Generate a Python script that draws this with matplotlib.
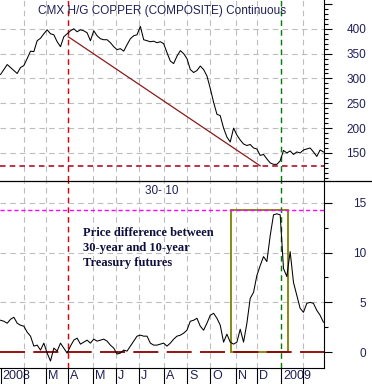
import numpy as np
import matplotlib
matplotlib.use("Agg")
import matplotlib.pyplot as plt
from matplotlib.lines import Line2D
from matplotlib.patches import Rectangle
from matplotlib.transforms import ScaledTranslation
from matplotlib.ticker import MultipleLocator

plt.rcParams['font.family'] = ['Liberation Sans', 'DejaVu Sans']
plt.rcParams['lines.scale_dashes'] = False

# trading days per month, Jan 2008 .. Feb 2009
month_days = [21, 20, 20, 22, 21, 21, 22, 21, 21, 23, 19, 22, 20, 19]
month_labels = ['2008', '', 'M', 'A', 'M', 'J', 'J', 'A', 'S', 'O', 'N', 'D', '2009', '']
step = 3  # trading days between samples

copper = [308, 318, 328, 322, 316, 310, 322, 326, 340, 355,
          354, 376, 381, 390, 398, 390, 388, 374, 364, 384,
          390, 396, 400, 394, 398, 396, 392, 376, 396, 386,
          380, 378, 378, 372, 364, 358, 360, 355, 368, 380,
          386, 388, 405, 378, 376, 374, 375, 372, 374, 370,
          352, 335, 330, 345, 356, 350, 340, 318, 312, 316,
          325, 318, 305, 280, 252, 228, 225, 200, 182, 172,
          200, 186, 176, 168, 165, 167, 160, 158, 145, 147,
          138, 130, 127, 127, 134, 155, 150, 154, 147, 152,
          150, 156, 158, 160, 152, 143, 156, 152]

spread = [3.2, 3.1, 2.9, 3.3, 3.5, 2.9, 2.7, 2.6, 2.0, 1.6,
          0.6, 0.7, 0.2, 0.9, -0.1, -0.9, 0.4, 0.1, 0.9, 0.4,
          -0.1, 0.6, 1.2, 1.4, 0.8, 1.0, 1.2, 0.9, 1.3, 1.1,
          1.2, 1.3, 1.1, 0.7, 0.4, -0.2, -0.1, 0.2, 0.1, 0.6,
          1.1, 1.6, 1.7, 1.6, 1.6, 0.9, 0.7, 0.7, 0.8, 0.9,
          0.6, 0.9, 1.3, 1.6, 1.7, 1.9, 2.2, 3.1, 3.2, 3.4,
          2.6, 2.2, 2.9, 3.7, 3.9, 3.4, 2.7, 1.0, 1.8, 1.0,
          0.8, 1.0, 2.3, 1.0, 2.9, 5.4, 6.0, 7.7, 8.7, 9.6,
          9.1, 11.7, 13.8, 13.9, 13.8, 8.4, 7.6, 10.1, 7.0, 5.7,
          4.4, 4.0, 4.9, 5.0, 4.9, 4.2, 3.7, 3.0]

# reference marks (trading day index / value)
red_day, green_day = 61, 253
trend_days, trend_vals = [61, 234], [384, 124]
copper_floor = 124
spread_top = 14.3
box_days = (208, 259)

txt = '#202058'
grid_kw = dict(color='#bdbdbd', lw=0.8, linestyle=(0, (4, 3)))

month_starts = np.concatenate([[0], np.cumsum(month_days)[:-1]])
x_cop = np.arange(len(copper)) * step
x_spr = np.arange(len(spread)) * step

fig = plt.figure(figsize=(3.72, 3.84), dpi=100)
ax1 = fig.add_axes([0, 203 / 384, 324 / 372, 181 / 384])
ax2 = fig.add_axes([0, 16 / 384, 324 / 372, 187 / 384])

for ax in (ax1, ax2):
    ax.set_xlim(-0.5, 291.5)
    for s in ('top', 'left'):
        ax.spines[s].set_visible(False)
    ax.yaxis.tick_right()
    ax.tick_params(axis='y', which='major', length=6, width=0.8, pad=24.5,
                   labelsize=8.5, labelcolor=txt)
    ax.tick_params(axis='y', which='minor', length=3, width=0.8)
    for m in month_starts[1:]:
        ax.axvline(m, **grid_kw, zorder=0)
    ax.axvline(red_day, color='#e00000', lw=1, linestyle=(0, (4, 3)))
    ax.axvline(green_day, color='#008000', lw=1, linestyle=(0, (4, 3)))

# top panel: copper
ax1.set_ylim(93.5, 458)
ax1.yaxis.set_minor_locator(MultipleLocator(10))
ax1.set_yticks([150, 200, 250, 300, 350, 400, 450])
ax1.set_yticklabels(['150', '200', '250', '300', '350', '400', ''])
for lab in ax1.get_yticklabels():
    lab.set_horizontalalignment('right')
for v in range(150, 401, 50):
    ax1.axhline(v, **grid_kw, zorder=0)
ax1.spines['bottom'].set_visible(False)
ax1.tick_params(axis='x', bottom=False, labelbottom=False)
ax1.plot(x_cop, copper, color='black', lw=0.75)
ax1.plot(trend_days, trend_vals, color='#8b1a1a', lw=0.9)
ax1.axhline(copper_floor, color='#b0102a', lw=1.2, linestyle=(0, (4, 3)))
ax1.text(145.5, 436, 'CMX H/G COPPER (COMPOSITE) Continuous', ha='center',
         va='center', fontsize=8.5, color=txt)

# bottom panel: 30-10 spread
ax2.set_ylim(-1.6, 17.2)
ax2.set_yticks([0, 5, 10, 15])
ax2.yaxis.set_minor_locator(MultipleLocator(2.5))
for lab in ax2.get_yticklabels():
    lab.set_horizontalalignment('right')
for v in (5, 10, 15):
    ax2.axhline(v, **grid_kw, zorder=0)
ax2.axhline(0, color='#8b0000', lw=1.3, linestyle=(0, (18, 6)))
ax2.axhline(spread_top, color='#ff00ff', lw=1, linestyle=(0, (3, 2)))
ax2.add_patch(Rectangle((box_days[0], 0), box_days[1] - box_days[0], spread_top,
                        fill=False, edgecolor='#808000', lw=1.3))
ax2.plot(x_spr, spread, color='black', lw=0.75)
ax2.text(145, 16.2, '30- 10', ha='center', va='center', fontsize=8.5, color=txt)
ax2.text(74, 12.6, 'Price difference between\n30-year and 10-year\nTreasury futures',
         ha='left', va='top', fontsize=9, fontweight='bold', linespacing=1.35,
         family=['Liberation Serif', 'DejaVu Serif'], color='#101040')

ax2.set_xticks(month_starts)
ax2.set_xticklabels(month_labels)
ax2.tick_params(axis='x', length=11.5, width=0.8, pad=-10, labelsize=9,
                labelcolor=txt)
for lab in ax2.get_xticklabels():
    lab.set_horizontalalignment('left')
    lab.set_transform(lab.get_transform() + ScaledTranslation(2 / 100, 0, fig.dpi_scale_trans))

fig.add_artist(Line2D([0, 1], [203 / 384, 203 / 384], color='black', lw=0.9))

fig.savefig('out.png', dpi=100)
